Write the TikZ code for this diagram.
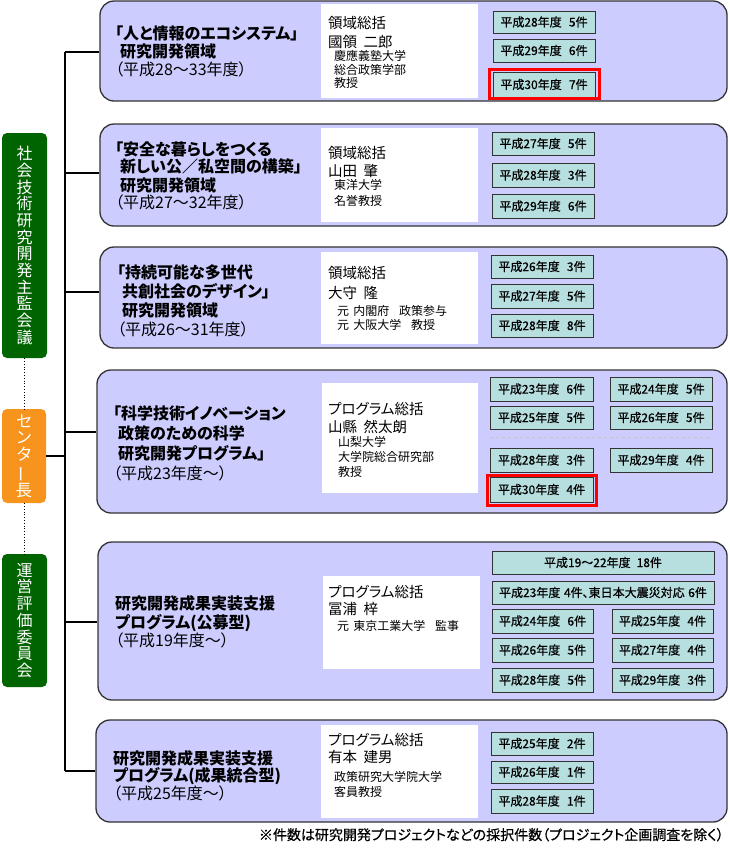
\documentclass[tikz,border=0pt]{standalone}
\usepackage{fontspec}
\usepackage{graphicx}
\setmainfont{Noto Sans CJK JP}[RawFeature={+palt}]
\newfontfamily\jpsemi{Noto Sans CJK JP}[RawFeature={+palt},FakeBold=0.6]
\definecolor{lav}{HTML}{CCCCFF}
\definecolor{ybfill}{HTML}{B8DFE0}
\definecolor{boxline}{HTML}{333333}
\definecolor{jgreen}{HTML}{006400}
\definecolor{jorange}{HTML}{F7941D}
\definecolor{jred}{HTML}{FF0000}
\newcommand\rbox[7]{%
 \pgfmathsetmacro\cxx{(#3+#5)/2}\pgfmathsetmacro\cyy{(#4+#6)/2}%
 \pgfmathsetmacro\www{#5-#3}\pgfmathsetmacro\hhh{#6-#4}%
 \node[#1,minimum width=\www pt,minimum height=\hhh pt] (#2) at (\cxx,\cyy) {#7};}
\newcommand\tl[5]{\node[#1] (#2) at (#3,#4) {#5};}
\newcommand\yt[2]{平成#1年度\hspace{0.6em}#2件}
\newcommand\gap[1][0.45em]{\hspace{#1}}
\begin{document}
\begin{tikzpicture}[x=1pt,y=-1pt,
 mainbox/.style={draw=boxline,fill=lav,line width=1.3pt,rounded corners=14pt,inner sep=0},
 whitebox/.style={fill=white,draw=none,inner sep=0},
 yearbox/.style={draw=boxline,fill=ybfill,line width=1pt,inner sep=0,font=\jpsemi\fontsize{12}{12}\selectfont},
 redbox/.style={draw=jred,line width=3pt,inner sep=0},
 greenbox/.style={fill=jgreen,draw=none,rounded corners=5pt,text=white,align=center,inner sep=0,font=\fontsize{16}{16.7}\selectfont},
 orangebox/.style={fill=jorange,draw=none,rounded corners=5pt,text=white,align=center,inner sep=0,font=\fontsize{16.5}{16.75}\selectfont},
 conn/.style={line width=1.3pt,black},
 dotline/.style={dotted,line width=0.8pt,black},
 ttl/.style={anchor=base west,inner sep=0,font=\bfseries\fontsize{16}{16}\selectfont},
 yr/.style={anchor=base west,inner sep=0,font=\fontsize{16}{16}\selectfont},
 lead/.style={anchor=base west,inner sep=0,font=\fontsize{14.5}{14.5}\selectfont},
 small/.style={anchor=base west,inner sep=0,font=\fontsize{12}{12}\selectfont},
 note/.style={anchor=base east,inner sep=1pt,font=\jpsemi\fontsize{14}{14}\selectfont}]
\useasboundingbox (0,0) rectangle (730,852);

% left column
\rbox{greenbox}{g1}{2}{133}{47}{358}{社\\会\\技\\術\\研\\究\\開\\発\\主\\監\\会\\議}
\rbox{orangebox}{c1}{2}{409}{46}{503}{セ\\ン\\タ\\\rotatebox[origin=c]{90}{ー}\\長}
\rbox{greenbox}{g2}{2}{554}{47}{687}{運\\営\\評\\価\\委\\員\\会}
\draw[dotline] (g1.south) -- (g1.south |- c1.north);
\draw[dotline] (c1.south) -- (c1.south |- g2.north);

% main boxes
\rbox{mainbox}{m1}{100}{1}{727}{101}{}
\rbox{mainbox}{m2}{100}{124}{727}{226}{}
\rbox{mainbox}{m3}{100}{247}{727}{348}{}
\rbox{mainbox}{m4}{97}{370}{727}{513}{}
\rbox{mainbox}{m5}{98}{542}{727}{700}{}
\rbox{mainbox}{m6}{96}{720}{727}{822}{}

% trunk and branches
\coordinate (tt) at (65,52);
\coordinate (tb) at (65,771);
\coordinate (b1) at (65,52);
\coordinate (b2) at (65,173);
\coordinate (b3) at (65,292);
\coordinate (b4) at (65,432);
\coordinate (b5) at (65,622);
\coordinate (b6) at (65,771);
\draw[conn] (tt) -- (tb);
\draw[conn] (b1) -- (b1 -| m1.west);
\draw[conn] (b2) -- (b2 -| m2.west);
\draw[conn] (b3) -- (b3 -| m3.west);
\draw[conn] (b4) -- (b4 -| m4.west);
\draw[conn] (b5) -- (b5 -| m5.west);
\draw[conn] (b6) -- (b6 -| m6.west);
\draw[conn] (c1.east) -- (c1.east -| tt);

% white boxes
\rbox{whitebox}{w1}{321}{4}{478}{98}{}
\rbox{whitebox}{w2}{321}{128}{478}{222}{}
\rbox{whitebox}{w3}{321}{252}{478}{344}{}
\rbox{whitebox}{w4}{322}{383}{478}{493}{}
\rbox{whitebox}{w5}{323}{576}{480}{669}{}
\rbox{whitebox}{w6}{321}{725}{478}{818}{}

% titles
\tl{ttl}{t1a}{115}{39}{「人と情報のエコシステム」}
\tl{ttl}{t1b}{120}{57}{研究開発領域}
\tl{yr}{t1c}{115}{75}{（平成28～33年度）}
\tl{ttl}{t2a}{115}{155}{「安全な暮らしをつくる}
\tl{ttl}{t2b}{120}{172}{新しい公／私空間の構築」}
\tl{ttl}{t2c}{120}{191}{研究開発領域}
\tl{yr}{t2d}{115}{208}{（平成27～32年度）}
\tl{ttl}{t3a}{117}{278}{「持続可能な多世代}
\tl{ttl}{t3b}{122}{297}{共創社会のデザイン」}
\tl{ttl}{t3c}{122}{316}{研究開発領域}
\tl{yr}{t3d}{117}{335}{（平成26～31年度）}
\tl{ttl}{t4a}{113}{419}{「科学技術イノベーション}
\tl{ttl}{t4b}{118}{439}{政策のための科学}
\tl{ttl}{t4c}{118}{459}{研究開発プログラム」}
\tl{yr}{t4d}{113}{479}{（平成23年度～）}
\tl{ttl}{t5a}{115}{609}{研究開発成果実装支援}
\tl{ttl}{t5b}{115}{628}{プログラム(公募型)}
\tl{yr}{t5c}{115}{646}{（平成19年度～）}
\tl{ttl}{t6a}{113}{764}{研究開発成果実装支援}
\tl{ttl}{t6b}{113}{781}{プログラム(成果統合型)}
\tl{yr}{t6c}{113}{799}{（平成25年度～）}

% leaders
\tl{lead}{l1a}{328}{28.5}{領域総括}
\tl{lead}{l1b}{328}{47.5}{國領\gap 二郎}
\tl{small}{l1c}{334}{60.6}{慶應義塾大学}
\tl{small}{l1d}{334}{74.6}{総合政策学部}
\tl{small}{l1e}{334}{87.6}{教授}
\tl{lead}{l2a}{328}{158.5}{領域総括}
\tl{lead}{l2b}{328}{176.5}{山田\gap 肇}
\tl{small}{l2c}{334}{189.6}{東洋大学}
\tl{small}{l2d}{334}{205.6}{名誉教授}
\tl{lead}{l3a}{328}{278.5}{領域総括}
\tl{lead}{l3b}{328}{298.5}{大守\gap 隆}
\tl{small}{l3c}{337}{315.6}{元\gap[0.35em]内閣府\gap[0.8em]政策参与}
\tl{small}{l3d}{337}{329.6}{元\gap[0.35em]大阪大学\gap[0.8em]教授}
\tl{lead}{l4a}{328}{414.5}{プログラム総括}
\tl{lead}{l4b}{328}{432.5}{山縣\gap 然太朗}
\tl{small}{l4c}{338}{446.6}{山梨大学}
\tl{small}{l4d}{338}{461.6}{大学院総合研究部}
\tl{small}{l4e}{338}{476.6}{教授}
\tl{lead}{l5a}{328}{597.5}{プログラム総括}
\tl{lead}{l5b}{328}{614.5}{冨浦\gap 梓}
\tl{small}{l5c}{337}{630.6}{元\gap[0.35em]東京工業大学\gap[0.8em]監事}
\tl{lead}{l6a}{328}{745.5}{プログラム総括}
\tl{lead}{l6b}{328}{762.5}{有本\gap 建男}
\tl{small}{l6c}{334}{781.6}{政策研究大学院大学}
\tl{small}{l6d}{334}{796.6}{客員教授}

% year boxes: box 1
\rbox{yearbox}{y1a}{493}{11}{595}{33}{\yt{28}{5}}
\rbox{yearbox}{y1b}{493}{39}{595}{62}{\yt{29}{6}}
\rbox{yearbox}{y1c}{493}{72}{595}{97}{\yt{30}{7}}
\rbox{redbox}{r1}{489.5}{69.5}{599.5}{98.5}{}
% box 2
\rbox{yearbox}{y2a}{492}{132}{594}{155}{\yt{27}{5}}
\rbox{yearbox}{y2b}{492}{163}{594}{187}{\yt{28}{3}}
\rbox{yearbox}{y2c}{492}{194}{594}{218}{\yt{29}{6}}
% box 3
\rbox{yearbox}{y3a}{491}{255}{593}{278}{\yt{26}{3}}
\rbox{yearbox}{y3b}{491}{284}{593}{308}{\yt{27}{5}}
\rbox{yearbox}{y3c}{491}{314}{593}{337}{\yt{28}{8}}
% box 4
\rbox{yearbox}{y4a}{490}{377}{593}{401}{\yt{23}{6}}
\rbox{yearbox}{y4b}{610}{377}{712}{401}{\yt{24}{5}}
\rbox{yearbox}{y4c}{490}{406}{593}{429}{\yt{25}{5}}
\rbox{yearbox}{y4d}{610}{406}{712}{429}{\yt{26}{5}}
\draw[dashed,line width=0.8pt,gray!45] (490,437) -- (712,437);
\rbox{yearbox}{y4e}{490}{448}{593}{472}{\yt{28}{3}}
\rbox{yearbox}{y4f}{610}{448}{712}{472}{\yt{29}{4}}
\rbox{yearbox}{y4g}{490}{477}{593}{502}{\yt{30}{4}}
\rbox{redbox}{r4}{487.5}{475.5}{596.5}{505.5}{}
% box 5
\rbox{yearbox}{y5a}{492}{551}{714}{574}{平成19～22年度\hspace{0.5em}18件}
\rbox{yearbox}{y5b}{492}{581}{714}{604}{平成23年度\hspace{0.3em}4件、東日本大震災対応\hspace{0.3em}6件}
\rbox{yearbox}{y5c}{492}{609}{593}{633}{\yt{24}{6}}
\rbox{yearbox}{y5d}{612}{609}{713}{633}{\yt{25}{4}}
\rbox{yearbox}{y5e}{492}{638}{593}{662}{\yt{26}{5}}
\rbox{yearbox}{y5f}{612}{638}{713}{662}{\yt{27}{4}}
\rbox{yearbox}{y5g}{492}{668}{593}{692}{\yt{28}{5}}
\rbox{yearbox}{y5h}{612}{668}{713}{692}{\yt{29}{3}}
% box 6
\rbox{yearbox}{y6a}{491}{732}{593}{755}{\yt{25}{2}}
\rbox{yearbox}{y6b}{491}{761}{593}{783}{\yt{26}{1}}
\rbox{yearbox}{y6c}{491}{789}{593}{813}{\yt{28}{1}}

% footnote
\node[note] (fn) at (725,840) {※件数は研究開発プロジェクトなどの採択件数（プロジェクト企画調査を除く）};
\end{tikzpicture}
\end{document}
